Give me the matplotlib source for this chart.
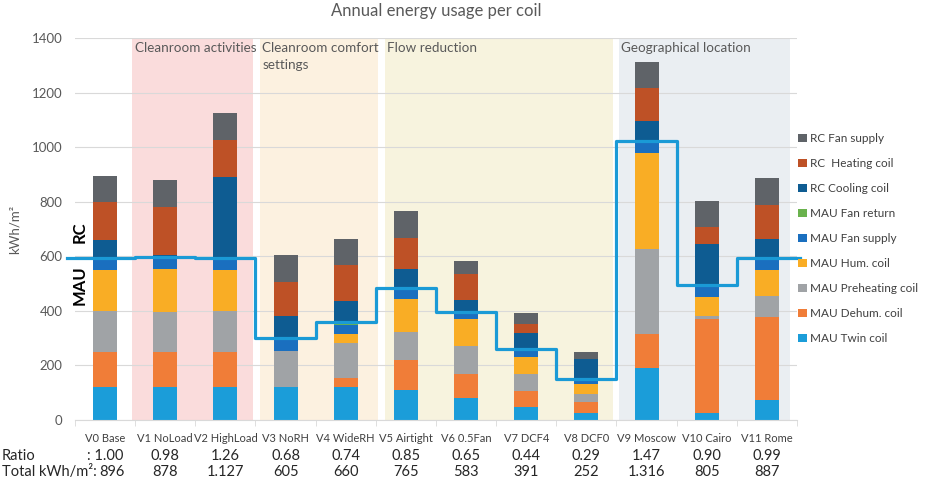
import numpy as np
import matplotlib
matplotlib.use("Agg")
import matplotlib.pyplot as plt
from matplotlib.patches import Patch
from matplotlib.transforms import blended_transform_factory

plt.rcParams['font.family'] = ['Lato', 'DejaVu Sans']

# ---- data ----
cases = ['V0 Base', 'V1 NoLoad', 'V2 HighLoad', 'V3 NoRH', 'V4 WideRH', 'V5 Airtight',
         'V6 0.5Fan', 'V7 DCF4', 'V8 DCF0', 'V9 Moscow', 'V10 Cairo', 'V11 Rome']
ratio = [': 1.00', '0.98', '1.26', '0.68', '0.74', '0.85', '0.65', '0.44', '0.29', '1.47', '0.90', '0.99']
total = ['896', '878', '1.127', '605', '660', '765', '583', '391', '252', '1.316', '805', '887']

# stacked from bottom to top
mau_twin     = [122, 122, 122, 122, 122, 110,  82,  49,  24, 192,  24,  73]
mau_dehum    = [128, 128, 128,   0,  31, 110,  85,  57,  41, 122, 346, 303]
mau_preheat  = [149, 145, 149, 130, 128, 101, 104,  61,  29, 313,  12,  80]
mau_hum      = [151, 157, 151,   0,  33, 122,  98,  65,  37, 350,  70,  94]
mau_fan_sup  = [ 37,  38,  37,  40,  36,  32,  20,  20,  13,  38,  35,  35]
mau_fan_ret  = [  8,   8,   8,   8,   8,   8,   8,   7,   5,   9,   8,   8]
rc_cool      = [ 66,   5, 297,  80,  80,  69,  43,  60,  75,  70, 150,  72]
rc_heat      = [138, 179, 135, 126, 130, 115,  95,  33,   0, 122,  61, 124]
rc_fan       = [ 97,  98,  97,  98,  96,  98,  48,  39,  27,  97,  97,  99]

series = [
    ('MAU Twin coil', mau_twin, '#1B9DD9'),
    ('MAU Dehum. coil', mau_dehum, '#F07D38'),
    ('MAU Preheating coil', mau_preheat, '#A0A3A6'),
    ('MAU Hum. coil', mau_hum, '#F9AD25'),
    ('MAU Fan supply', mau_fan_sup, '#1A6FBF'),
    ('MAU Fan return', mau_fan_ret, '#6AB24D'),
    ('RC Cooling coil', rc_cool, '#0E5C92'),
    ('RC  Heating coil', rc_heat, '#BE5126'),
    ('RC Fan supply', rc_fan, '#5F6368'),
]

groups = [('Cleanroom activities', 0.45, 2.46, '#FADCDC'),
          ('Cleanroom comfort\nsettings', 2.57, 4.54, '#FCF1E0'),
          ('Flow reduction', 4.65, 8.44, '#F7F3DE'),
          ('Geographical location', 8.54, 11.38, '#EAEEF2')]

# ---- plot ----
fig = plt.figure(figsize=(9.4, 4.78), dpi=100)
ax = fig.add_axes([0.0798, 0.1213, 0.768, 0.7992])
x = np.arange(len(cases))

for name, x0, x1, col in groups:
    ax.axvspan(x0, x1, color=col, zorder=0, lw=0)
    ax.text(x0 + 0.04, 1385, name, ha='left', va='top', fontsize=9.7, color='#595959',
            linespacing=1.5, zorder=1)

bottom = np.zeros(len(cases))
handles = []
for name, vals, col in series:
    ax.bar(x, vals, 0.4, bottom=bottom, color=col, zorder=2)
    bottom += np.array(vals)
    handles.append(Patch(facecolor=col, label=name))

# MAU / RC boundary line
mau_total = np.array(mau_twin) + np.array(mau_dehum) + np.array(mau_preheat) + \
    np.array(mau_hum) + np.array(mau_fan_sup) + np.array(mau_fan_ret)
xs = np.concatenate([[-0.63], x, [11.55]])
ys = np.concatenate([[mau_total[0]], mau_total, [mau_total[-1]]])
ax.step(xs, ys, where='mid', color='#1A9AD6', lw=2.3, zorder=3, clip_on=False)

ax.text(-0.42, 690, 'RC', rotation=90, ha='center', va='center', fontsize=12,
        fontweight='bold', color='black', zorder=4)
ax.text(-0.42, 495, 'MAU', rotation=90, ha='center', va='center', fontsize=12,
        fontweight='bold', color='black', zorder=4)

ax.set_xlim(-0.5, 11.5)
ax.set_ylim(0, 1400)
ax.set_yticks(range(0, 1401, 200))
ax.yaxis.grid(True, color='#D9D9D9', lw=0.8)
ax.set_axisbelow(True)
for s in ['top', 'right', 'left']:
    ax.spines[s].set_visible(False)
ax.spines['bottom'].set_color('#D9D9D9')
ax.tick_params(axis='y', length=0, pad=9, labelsize=9.5, labelcolor='#595959')
ax.set_xticks(x)
ax.set_xticklabels(cases, fontsize=8, color='#404040')
ax.tick_params(axis='x', length=0, pad=9)
ax.set_xticks(np.arange(-0.5, 12, 1), minor=True)
ax.tick_params(axis='x', which='minor', length=4, color='#D9D9D9')
ax.set_ylabel('kWh/m²', fontsize=9.5, color='#595959', labelpad=8)

ax.set_title('Annual energy usage per coil', fontsize=12, color='#595959', pad=16)

# bottom table
tr = blended_transform_factory(ax.transData, fig.transFigure)
fig.text(0.002, 0.046, 'Ratio', fontsize=10.5, color='#262626', va='center')
fig.text(0.002, 0.012, 'Total kWh/m²:', fontsize=10.5, color='#262626', va='center')
for i in range(len(cases)):
    ax.text(x[i], 0.046, ratio[i], transform=tr, ha='center', va='center',
            fontsize=10.5, color='#262626')
    ax.text(x[i] + (0.12 if i == 0 else 0), 0.012, total[i], transform=tr, ha='center',
            va='center', fontsize=10.5, color='#262626')

ax.legend(handles=handles[::-1], loc='upper left', bbox_to_anchor=(0.838, 0.743),
          bbox_transform=fig.transFigure, frameon=False, fontsize=8.5,
          handlelength=0.7, handleheight=0.7, handletextpad=0.3, labelspacing=1.18,
          labelcolor='#404040')

fig.savefig('out.png', dpi=100)
